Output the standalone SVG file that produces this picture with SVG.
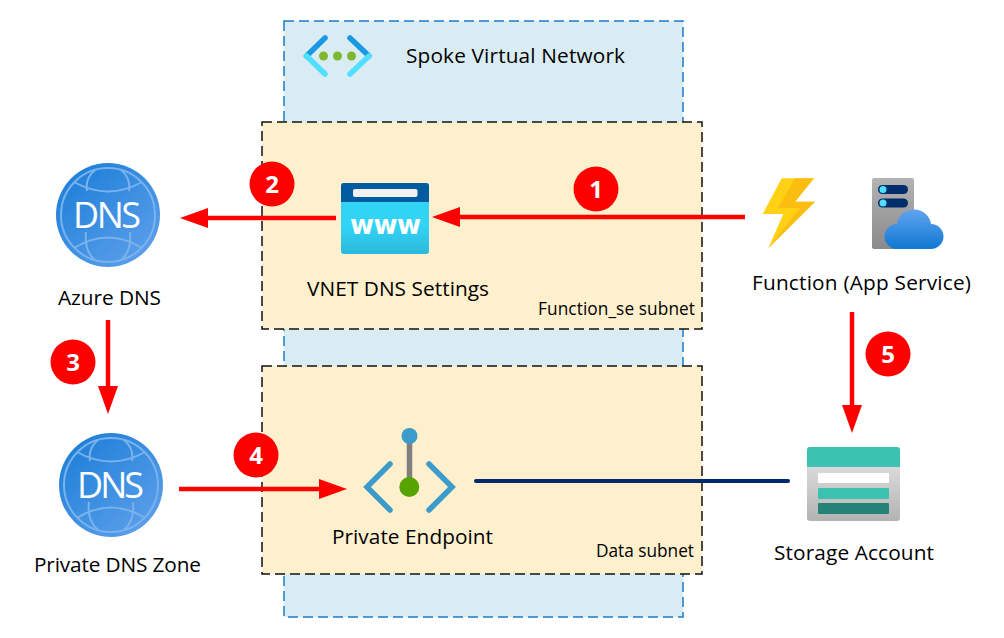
<svg xmlns="http://www.w3.org/2000/svg" width="1004" height="638" viewBox="0 0 1004 638">
<style>
text{font-family:"Open Sans","Noto Sans","Liberation Sans",sans-serif;fill:#000;font-size:20.800px}
.sm{font-size:17.300px}
.vnet{fill:#daecf3;stroke:#1b7cc4;stroke-width:1.5;stroke-dasharray:10 5}
.subnet{fill:#fff0cd;stroke:#111;stroke-width:1.5;stroke-dasharray:10 5}
.flow{stroke:#f00;stroke-width:4.500;fill:none;marker-end:url(#arrow)}
.badge{fill:#f00}
.num{font-family:"Open Sans","Liberation Sans",sans-serif;font-weight:700;font-size:24px;fill:#fff;text-anchor:middle}
.dnsline{fill:none;stroke:#7ab2ee;stroke-width:2}
.dnstext{font-size:36px;fill:#fff}
</style>
<defs>
<marker id="arrow" markerUnits="userSpaceOnUse" markerWidth="30" markerHeight="22" refX="18" refY="10.500" orient="auto"><path d="M0 0.500L28 10.500L0 20.500Z" fill="#f00"/></marker>
<linearGradient id="dnsg" x1="0.15" y1="0.1" x2="0.85" y2="0.9"><stop offset="0" stop-color="#1f80d8"/><stop offset="1" stop-color="#5a9eea"/></linearGradient>
<linearGradient id="wwwg" x1="0" y1="0" x2="0" y2="1"><stop offset="0.6" stop-color="#32d4f5"/><stop offset="1" stop-color="#2bb8dc"/></linearGradient>
<linearGradient id="srv" x1="0" y1="0" x2="0" y2="1"><stop offset="0" stop-color="#b3b3b3"/><stop offset="1" stop-color="#8a8a8a"/></linearGradient>
<linearGradient id="cloud" x1="0" y1="0" x2="0" y2="1"><stop offset="0" stop-color="#62a4ee"/><stop offset="1" stop-color="#0f78d4"/></linearGradient>
<linearGradient id="stor" x1="0" y1="0" x2="0" y2="1"><stop offset="0" stop-color="#e8e8e8"/><stop offset="1" stop-color="#b3b3b3"/></linearGradient>
<g id="dnsicon">
<circle r="52" fill="url(#dnsg)"/>
<circle r="47" fill="none" stroke="#7ab2ee" stroke-width="2"/>
<path class="dnsline" d="M-34-33Q0-14 34-33M-34 33Q0 12 34 33M-13-45Q-23-37-21-24M13-45Q23-37 21-24M-13 45Q-24 36-22 17M13 45Q24 36 22 17"/>
</g>
</defs>

<g id="spoke-vnet"><rect class="vnet" x="284" y="21" width="399" height="596"/></g>
<g id="function-subnet"><rect class="subnet" x="262" y="122" width="440" height="207"/><text class="sm" x="538" y="315" textLength="157">Function_se subnet</text></g>
<g id="data-subnet"><rect class="subnet" x="262" y="366" width="440" height="208"/><text class="sm" x="596" y="557" textLength="98">Data subnet</text></g>

<g id="vnet-label">
<path d="M325 38L306.500 56" fill="none" stroke="#1a98e2" stroke-width="5.500" stroke-linecap="round"/>
<path d="M306.500 56L325 74" fill="none" stroke="#50e0ff" stroke-width="5.500" stroke-linecap="round"/>
<path d="M350 38L369 56" fill="none" stroke="#1a98e2" stroke-width="5.500" stroke-linecap="round"/>
<path d="M369 56L350 74" fill="none" stroke="#50e0ff" stroke-width="5.500" stroke-linecap="round"/>
<circle cx="323.500" cy="56" r="4.500" fill="#7cb82f"/><circle cx="337.500" cy="56" r="4.500" fill="#7cb82f"/><circle cx="351.500" cy="56" r="4.500" fill="#7cb82f"/>
<text x="406" y="63" textLength="219">Spoke Virtual Network</text>
</g>

<g id="connectors">
<path class="flow" d="M745 217H442"/>
<path class="flow" d="M336 218H190"/>
<path class="flow" d="M108 320V404"/>
<path class="flow" d="M179 489H337"/>
<path class="flow" d="M852 312V423"/>
<path d="M476 481H788" fill="none" stroke="#002a6e" stroke-width="4" stroke-linecap="round"/>
</g>

<g id="step-1"><circle class="badge" cx="596" cy="189" r="22.500"/><text class="num" x="596" y="198">1</text></g>
<g id="step-2"><circle class="badge" cx="272" cy="184" r="22.500"/><text class="num" x="272" y="193">2</text></g>
<g id="step-3"><circle class="badge" cx="73" cy="362" r="22.500"/><text class="num" x="73" y="371">3</text></g>
<g id="step-4"><circle class="badge" cx="256" cy="455" r="22.500"/><text class="num" x="256" y="464">4</text></g>
<g id="step-5"><circle class="badge" cx="888" cy="354" r="22.500"/><text class="num" x="888" y="363">5</text></g>

<g id="azure-dns">
<use href="#dnsicon" x="108" y="215"/>
<text class="dnstext" x="73" y="228" textLength="68">DNS</text>
<text x="58" y="305" textLength="103">Azure DNS</text>
</g>
<g id="private-dns-zone">
<use href="#dnsicon" x="111" y="485"/>
<text class="dnstext" x="77" y="498" textLength="67">DNS</text>
<text x="34" y="572" textLength="167">Private DNS Zone</text>
</g>

<g id="vnet-dns-settings">
<rect x="341" y="183" width="88" height="71" rx="3" fill="url(#wwwg)"/>
<path d="M341 202V186a3 3 0 0 1 3-3H426a3 3 0 0 1 3 3V202Z" fill="#005ba1"/>
<rect x="353" y="189" width="64.500" height="8" rx="2" fill="#f2f2f2"/>
<text x="350" y="234" textLength="71" style="font-family:'DejaVu Sans',sans-serif;font-size:26px;font-weight:700;fill:#fff">www</text>
<text x="307" y="296" textLength="182">VNET DNS Settings</text>
</g>

<g id="function-app">
<path d="M781.700 178.300H814L795 201.700H815L768.300 248.300L783.300 214H762.700Z" fill="#fed114"/>
<path d="M795 178.300H814L795 201.700H815L768.300 248.300L800 208H778Z" fill="#fcbd11"/>
<rect x="872" y="178" width="42" height="71" rx="2" fill="url(#srv)"/>
<rect x="878" y="185" width="30" height="9" rx="4.500" fill="#002d6c"/><circle cx="883" cy="189.500" r="3.500" fill="#50e0ff"/>
<rect x="878" y="198.500" width="30" height="9" rx="4.500" fill="#002d6c"/><circle cx="883" cy="203" r="3.500" fill="#50e0ff"/>
<path d="M897 249A12.500 12.500 0 0 1 897 224A17.200 17.200 0 0 1 931 224A12.500 12.500 0 0 1 931 249Z" fill="url(#cloud)"/>
<text x="752" y="290" textLength="219">Function (App Service)</text>
</g>

<g id="private-endpoint">
<path d="M409.500 438V487" stroke="#7f7f7f" stroke-width="5.500"/>
<circle cx="409.500" cy="436" r="8" fill="#3b9ccc"/>
<circle cx="409.300" cy="487" r="10" fill="#57a300"/>
<path d="M390 464L367 487L390 510M429 464L452 487L429 510" fill="none" stroke="#3b9ccc" stroke-width="5.500" stroke-linecap="round" stroke-linejoin="miter"/>
<text x="332" y="544" textLength="161">Private Endpoint</text>
</g>

<g id="storage-account">
<rect x="807" y="447" width="93" height="74" rx="3" fill="url(#stor)"/>
<path d="M807 467V450a3 3 0 0 1 3-3H897a3 3 0 0 1 3 3V467Z" fill="#3cc2b1"/>
<rect x="818" y="473" width="71" height="10" fill="#fff"/>
<rect x="818" y="488" width="71" height="11" rx="1" fill="#3cc2b1"/>
<rect x="818" y="503" width="71" height="11" rx="1" fill="#258277"/>
<text x="774" y="560" textLength="160">Storage Account</text>
</g>
</svg>
